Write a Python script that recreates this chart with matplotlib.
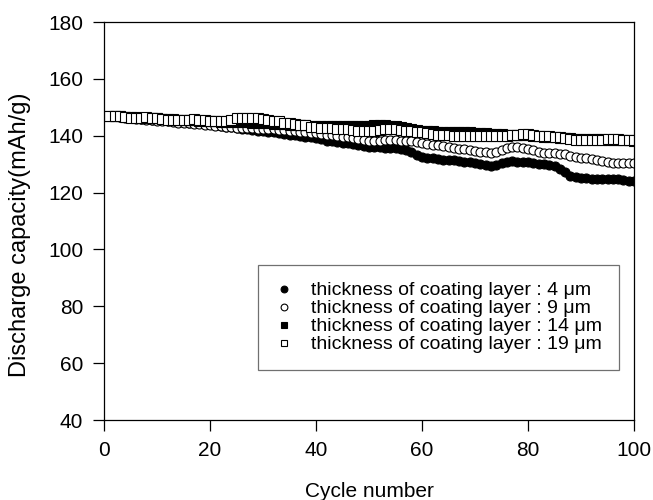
import matplotlib
matplotlib.use("Agg")
import matplotlib.pyplot as plt
import numpy as np

plt.rcParams['font.family'] = ['Liberation Sans', 'DejaVu Sans']

cycles = list(range(1, 101))

cap_4um = [
    147.0, 146.8, 146.6, 146.5, 146.3, 146.2, 146.0, 145.8, 145.7, 145.5,
    145.4, 145.2, 145.0, 144.9, 144.7, 144.6, 144.4, 144.3, 144.1, 144.0,
    143.7, 143.4, 143.1, 142.9, 142.6, 142.4, 142.2, 142.0, 141.8, 141.6,
    141.4, 141.2, 141.0, 140.7, 140.4, 140.2, 140.0, 139.7, 139.4, 139.1,
    138.7, 138.3, 138.0, 137.8, 137.6, 137.4, 137.1, 136.8, 136.5, 136.2,
    136.0, 135.9, 135.8, 135.8, 135.7, 135.5, 135.0, 134.2, 133.3, 132.6,
    132.2, 132.0, 131.8, 131.6, 131.4, 131.3, 131.0, 130.8, 130.6, 130.5,
    130.0, 129.6, 129.4, 129.8, 130.4, 130.8, 131.0, 130.9, 130.8, 130.6,
    130.4, 130.2, 130.0, 129.8, 129.4, 128.4, 127.2, 126.0, 125.4, 125.1,
    125.0, 124.9, 124.8, 124.7, 124.7, 124.6, 124.6, 124.5, 124.2, 123.9,
]

cap_9um = [
    147.0, 146.8, 146.6, 146.4, 146.2, 146.0, 145.8, 145.6, 145.5, 145.3,
    145.2, 145.0, 144.8, 144.6, 144.5, 144.3, 144.2, 144.0, 143.9, 143.7,
    143.5, 143.3, 143.1, 142.9, 142.8, 142.7, 142.6, 142.6, 142.5, 142.4,
    142.3, 142.2, 142.1, 142.0, 141.8, 141.6, 141.4, 141.2, 141.0, 140.8,
    140.6, 140.4, 140.2, 140.0, 139.7, 139.4, 139.1, 138.8, 138.5, 138.2,
    138.0, 138.2, 138.5, 138.6, 138.4, 138.1, 138.0, 138.0, 137.8, 137.5,
    137.2, 136.9, 136.7, 136.4, 136.1, 135.8, 135.5, 135.2, 134.9, 134.6,
    134.4, 134.2, 134.0, 134.3, 135.0, 135.6, 135.9, 135.9, 135.7, 135.4,
    134.8, 134.2, 134.0, 134.0, 133.9, 133.7, 133.4, 133.0, 132.6, 132.3,
    132.0, 131.7, 131.4, 131.1, 130.8, 130.5, 130.4, 130.4, 130.4, 130.5,
]

cap_14um = [
    147.0, 146.9, 146.8, 146.7, 146.6, 146.5, 146.4, 146.3, 146.2, 146.1,
    146.0, 145.9, 145.8, 145.7, 145.6, 145.5, 145.4, 145.3, 145.2, 145.1,
    145.0, 144.9, 144.9, 144.8, 144.8, 144.7, 144.7, 144.6, 144.5, 144.4,
    144.3, 144.2, 144.1, 144.0, 143.9, 143.8, 143.7, 143.6, 143.5, 143.4,
    143.4, 143.3, 143.3, 143.3, 143.3, 143.4, 143.4, 143.5, 143.5, 143.5,
    143.6, 143.6, 143.6, 143.5, 143.3, 143.0, 142.6, 142.2, 141.9, 141.8,
    141.6, 141.5, 141.4, 141.4, 141.4, 141.3, 141.3, 141.3, 141.2, 141.1,
    141.0, 140.8, 140.6, 140.5, 140.5, 140.4, 140.4, 140.4, 140.3, 140.2,
    140.0, 139.8, 139.6, 139.5, 139.4, 139.3, 139.2, 139.1, 139.0, 138.9,
    138.8, 138.8, 138.7, 138.7, 138.6, 138.6, 138.5, 138.5, 138.4, 138.3,
]

cap_19um = [
    147.0, 146.9, 146.8, 146.6, 146.3, 146.2, 146.4, 146.5, 146.4, 146.1,
    145.8, 145.7, 145.6, 145.6, 145.7, 145.7, 145.8, 145.7, 145.4, 145.1,
    145.0, 145.0, 145.2, 145.7, 146.1, 146.3, 146.3, 146.2, 146.2, 146.0,
    145.6, 145.3, 145.0, 144.6, 144.3, 144.1, 143.9, 143.6, 143.2, 142.9,
    142.8, 142.7, 142.6, 142.5, 142.4, 142.2, 142.0, 141.8, 141.6, 141.5,
    141.7, 142.0, 142.3, 142.4, 142.3, 142.1, 141.8, 141.5, 141.4, 141.3,
    141.0, 140.7, 140.4, 140.3, 140.1, 139.9, 139.8, 139.8, 139.8, 139.8,
    139.8, 139.9, 140.0, 140.0, 140.0, 140.0, 140.1, 140.3, 140.5, 140.5,
    140.1, 139.8, 139.8, 139.8, 139.7, 139.7, 139.3, 138.8, 138.6, 138.6,
    138.6, 138.5, 138.5, 138.6, 138.7, 139.0, 138.9, 138.5, 138.4, 138.4,
]

labels = [
    "thickness of coating layer : 4 \u03bcm",
    "thickness of coating layer : 9 \u03bcm",
    "thickness of coating layer : 14 \u03bcm",
    "thickness of coating layer : 19 \u03bcm",
]

x_ticks = [0, 20, 40, 60, 80, 100]
y_ticks = [40, 60, 80, 100, 120, 140, 160, 180]

fig = plt.figure(figsize=(6.53, 5.0), dpi=100)
ax = fig.add_axes([104/653, 1 - 420/500, 530/653, 398/500])

ms = 6.5
ax.plot(cycles, cap_4um, 'o', ms=ms, mfc='black', mec='black', mew=0.8, label=labels[0])
ax.plot(cycles, cap_9um, 'o', ms=ms, mfc='white', mec='black', mew=0.8, label=labels[1])
ax.plot(cycles, cap_14um, 's', ms=ms, mfc='black', mec='black', mew=0.8, label=labels[2])
ax.plot(cycles, cap_19um, 's', ms=ms, mfc='white', mec='black', mew=0.8, label=labels[3])

ax.set_xlim(0, 100)
ax.set_ylim(40, 180)
ax.set_xticks(x_ticks)
ax.set_yticks(y_ticks)
ax.tick_params(axis='both', direction='out', length=8, width=0.9, labelsize=15, pad=7,
               top=False, right=False)
for s in ax.spines.values():
    s.set_linewidth(0.9)

ax.set_xlabel("Cycle number", fontsize=15, labelpad=16)
ax.set_ylabel("Discharge capacity(mAh/g)", fontsize=17)
ax.yaxis.set_label_coords(-0.137, 0.465)

leg = ax.legend(loc='upper left', bbox_to_anchor=(0.29, 0.389), fontsize=14,
                frameon=True, fancybox=False, edgecolor='#707070', framealpha=1,
                handlelength=1.0, handletextpad=0.9, borderpad=0.85, labelspacing=0.02,
                markerscale=0.75, borderaxespad=0)
leg.get_frame().set_linewidth(0.9)

fig.savefig("out.png", dpi=100)
